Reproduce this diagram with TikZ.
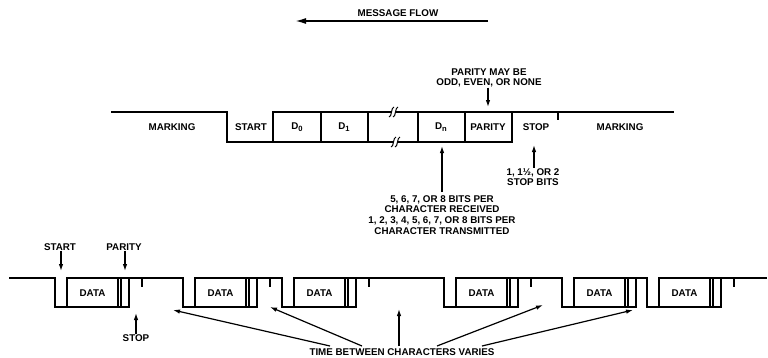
\documentclass[tikz,border=0pt]{standalone}
\usepackage{fontspec}
\setmainfont{Liberation Sans}
\usetikzlibrary{arrows.meta,calc}
\newcommand{\subx}[1]{\raisebox{-1.6pt}{\fontsize{7.6}{8}\selectfont #1}}
\begin{document}
\begin{tikzpicture}[x=1pt,y=-1pt,
  wave/.style={line width=1.7pt, line join=miter},
  lbl/.style={font=\fontsize{9.8}{10.7}\selectfont\bfseries, inner sep=0pt, align=center},
  arr/.style={-{Latex[length=7pt,width=4.5pt]}, line width=1.2pt},
  bigarr/.style={-{Latex[length=11pt,width=6pt]}, line width=1.7pt},
  brk/.pic={
    \draw[white, line width=3.5pt] (-2,5) .. controls (1,5) and (0,-5) .. (3,-5);
    \draw[line width=1pt] (-4,5) .. controls (-1,5) and (-2,-5) .. (1,-5);
    \draw[line width=1pt] (0,5) .. controls (3,5) and (2,-5) .. (5,-5);
  }]
\useasboundingbox (0,0) rectangle (768,357);

% message flow
\node[lbl] (mf) at (398,13) {MESSAGE FLOW};
\coordinate (mfs) at (488,21);
\coordinate (mfe) at (295,21);
\draw[bigarr] (mfs) -- (mfe);

% top waveform
\draw[wave] (111,112) -- (227,112) -- (227,142) -- (512,142) -- (512,112) -- (674,112);
\draw[wave] (273,142) -- (273,112) -- (512,112);
\foreach \x in {321,368,418,465} \draw[wave] (\x,112) -- (\x,142);
\draw[wave] (558,112) -- (558,120);
\pic at (393,112) {brk};
\pic at (395,142) {brk};

\node[lbl] (mk1) at (172,127) {MARKING};
\node[lbl] (st) at (251,127) {START};
\node[lbl] (d0) at (297,127) {D\subx{0}};
\node[lbl] (d1) at (344,127) {D\subx{1}};
\node[lbl] (dn) at (441,127) {D\subx{n}};
\node[lbl] (par) at (488,127) {PARITY};
\node[lbl] (stp) at (536,127) {STOP};
\node[lbl] (mk2) at (620,127) {MARKING};

% top annotations
\node[lbl] (pmb) at (489,78) {PARITY MAY BE\\ODD, EVEN, OR NONE};
\coordinate (pmbe) at (488,107);
\draw[arr] (pmb.south -| pmbe) -- (pmbe);

\node[lbl, anchor=north] (bits) at (442,195) {5, 6, 7, OR 8 BITS PER\\CHARACTER RECEIVED\\1, 2, 3, 4, 5, 6, 7, OR 8 BITS PER\\CHARACTER TRANSMITTED};
\coordinate (bitss) at (442,192);
\coordinate (bitse) at (442,146);
\draw[arr] (bitss) -- (bitse);

\node[lbl] (sb) at (533,177) {1, 1½, OR 2\\STOP BITS};
\coordinate (sbe) at (534,145);
\draw[arr] (sb.north -| sbe) -- (sbe);

% bottom waveform
\draw[wave] (9,278) -- (55,278) -- (55,307) -- (129,307) -- (129,278)
  -- (183,278) -- (183,307) -- (257,307) -- (257,278)
  -- (282,278) -- (282,307) -- (356,307) -- (356,278)
  -- (444,278) -- (444,307) -- (518,307) -- (518,278)
  -- (562,278) -- (562,307) -- (636,307) -- (636,278)
  -- (647,278) -- (647,307) -- (721,307) -- (721,278) -- (767,278);
\foreach \f/\n in {55/1,183/2,282/3,444/4,562/5,647/6} {
  \draw[wave] (\f+12,307) -- (\f+12,278) -- (\f+74,278);
  \draw[wave] (\f+63,278) -- (\f+63,307);
  \draw[wave] (\f+66,278) -- (\f+66,307);
  \node[lbl] (data\n) at (\f+37.5,293) {DATA};
}
\foreach \t in {142,270,369,531,734} \draw[wave] (\t,278) -- (\t,287);

% bottom annotations
\node[lbl] (bst) at (60,247) {START};
\coordinate (bste) at (61,271);
\draw[arr] (bst.south -| bste) -- (bste);
\node[lbl] (bpar) at (124,247) {PARITY};
\coordinate (bpare) at (125,271);
\draw[arr] (bpar.south -| bpare) -- (bpare);
\node[lbl] (bstop) at (136,338) {STOP};
\coordinate (bstope) at (136,313);
\draw[arr] (bstop.north) -- (bstope);

\node[lbl] (time) at (402,352) {TIME BETWEEN CHARACTERS VARIES};
\coordinate (t1s) at (330,346); \coordinate (t1e) at (173,310);
\coordinate (t2s) at (362,346); \coordinate (t2e) at (270,307);
\coordinate (t3s) at (399,346); \coordinate (t3e) at (399,309);
\coordinate (t4s) at (437,346); \coordinate (t4e) at (543,305);
\coordinate (t5s) at (482,346); \coordinate (t5e) at (633,310);
\foreach \i in {1,...,5} \draw[arr] (t\i s) -- (t\i e);
\end{tikzpicture}
\end{document}
